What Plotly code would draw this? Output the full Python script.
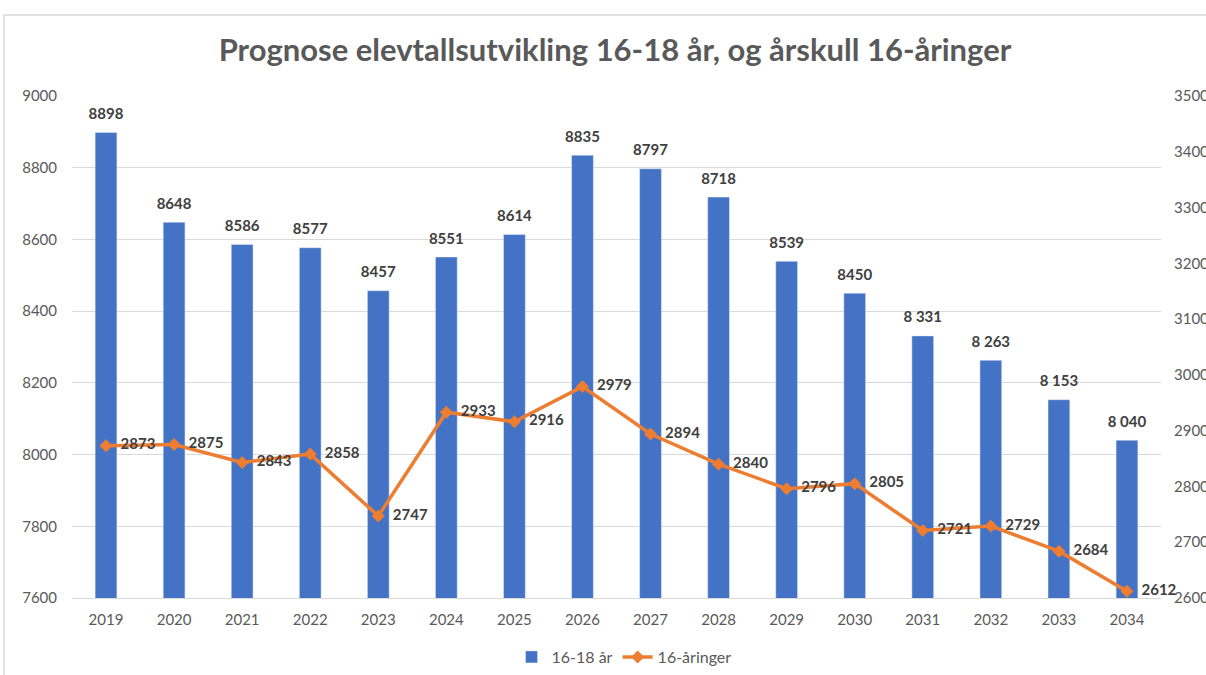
import plotly.graph_objects as go

years = ["2019", "2020", "2021", "2022", "2023", "2024", "2025", "2026",
         "2027", "2028", "2029", "2030", "2031", "2032", "2033", "2034"]
elever_16_18 = [8898, 8648, 8586, 8577, 8457, 8551, 8614, 8835,
                8797, 8718, 8539, 8450, 8331, 8263, 8153, 8040]
elever_labels = ["8898", "8648", "8586", "8577", "8457", "8551", "8614", "8835",
                 "8797", "8718", "8539", "8450", "8 331", "8 263", "8 153", "8 040"]
aaringer_16 = [2873, 2875, 2843, 2858, 2747, 2933, 2916, 2979,
               2894, 2840, 2796, 2805, 2721, 2729, 2684, 2612]
left_ticks = [7600, 7800, 8000, 8200, 8400, 8600, 8800, 9000]
right_ticks = [2600, 2700, 2800, 2900, 3000, 3100, 3200, 3300, 3400, 3500]

FONT = "Lato, 'Open Sans', sans-serif"
W, H = 1206, 675
L, R, T, B = 72, 1161, 96, 598

fig = go.Figure()
fig.add_trace(go.Bar(
    x=years, y=elever_16_18, name="16-18 år",
    marker_color="#4472C4",
))
fig.add_trace(go.Scatter(
    x=years, y=elever_16_18, mode="markers+text", showlegend=False,
    marker=dict(size=14, color="rgba(0,0,0,0)"),
    text=elever_labels, textposition="top center", cliponaxis=False,
    textfont=dict(family=FONT, size=15, color="#404040", weight="bold"),
    hoverinfo="skip",
))
fig.add_trace(go.Scatter(
    x=years, y=aaringer_16, name="16-åringer", yaxis="y2",
    mode="lines+markers+text",
    line=dict(color="#ED7D31", width=3.5),
    marker=dict(symbol="diamond", size=10, color="#ED7D31"),
    text=["\u00a0\u00a0" + str(v) for v in aaringer_16], textposition="middle right",
    textfont=dict(family=FONT, size=15, color="#404040", weight="bold"),
    cliponaxis=False,
))

pw = R - L
ph = B - T
fig.add_shape(type="rect", xref="paper", yref="paper",
              x0=(4 - L) / pw, x1=(1300 - L) / pw,
              y0=(B - 800) / ph, y1=(B - 15) / ph,
              line=dict(color="#D9D9D9", width=1.5), fillcolor="rgba(0,0,0,0)",
              layer="below")

fig.update_layout(
    width=W, height=H,
    margin=dict(l=L, r=W - R, t=T, b=H - B, autoexpand=False),
    paper_bgcolor="white", plot_bgcolor="white",
    font=dict(family=FONT, color="#595959"),
    title=dict(text="<b>Prognose elevtallsutvikling 16-18 år, og årskull 16-åringer</b>",
               x=615 / W, xref="container", xanchor="center",
               y=1 - 50 / H, yref="container", yanchor="middle",
               font=dict(family=FONT, size=31, color="#595959")),
    bargap=0.68,
    showlegend=True,
    legend=dict(orientation="h", x=(624 - L) / pw, xanchor="center",
                y=(B - 657) / ph, yanchor="middle",
                font=dict(family=FONT, size=16, color="#595959")),
    xaxis=dict(type="category", range=[-0.5, 15.5], showgrid=False, showline=True,
               linecolor="#D9D9D9", ticks="", tickfont=dict(size=15, color="#595959"),
               ticklabelstandoff=8),
    yaxis=dict(range=[7600, 9000], tickvals=left_ticks, showgrid=True,
               gridcolor="#D9D9D9", gridwidth=1, zeroline=False, showline=False,
               tickfont=dict(size=15, color="#595959"), ticklabelstandoff=14,
               automargin=False),
    yaxis2=dict(range=[2600, 3500], tickvals=right_ticks, overlaying="y",
                side="right", showgrid=False, zeroline=False, showline=False,
                tickfont=dict(size=15, color="#595959"), ticklabelstandoff=12,
                automargin=False),
)

fig.write_html("out.html", config={"displayModeBar": False},
               post_script="document.body.style.margin='0';document.body.style.overflow='hidden';")
